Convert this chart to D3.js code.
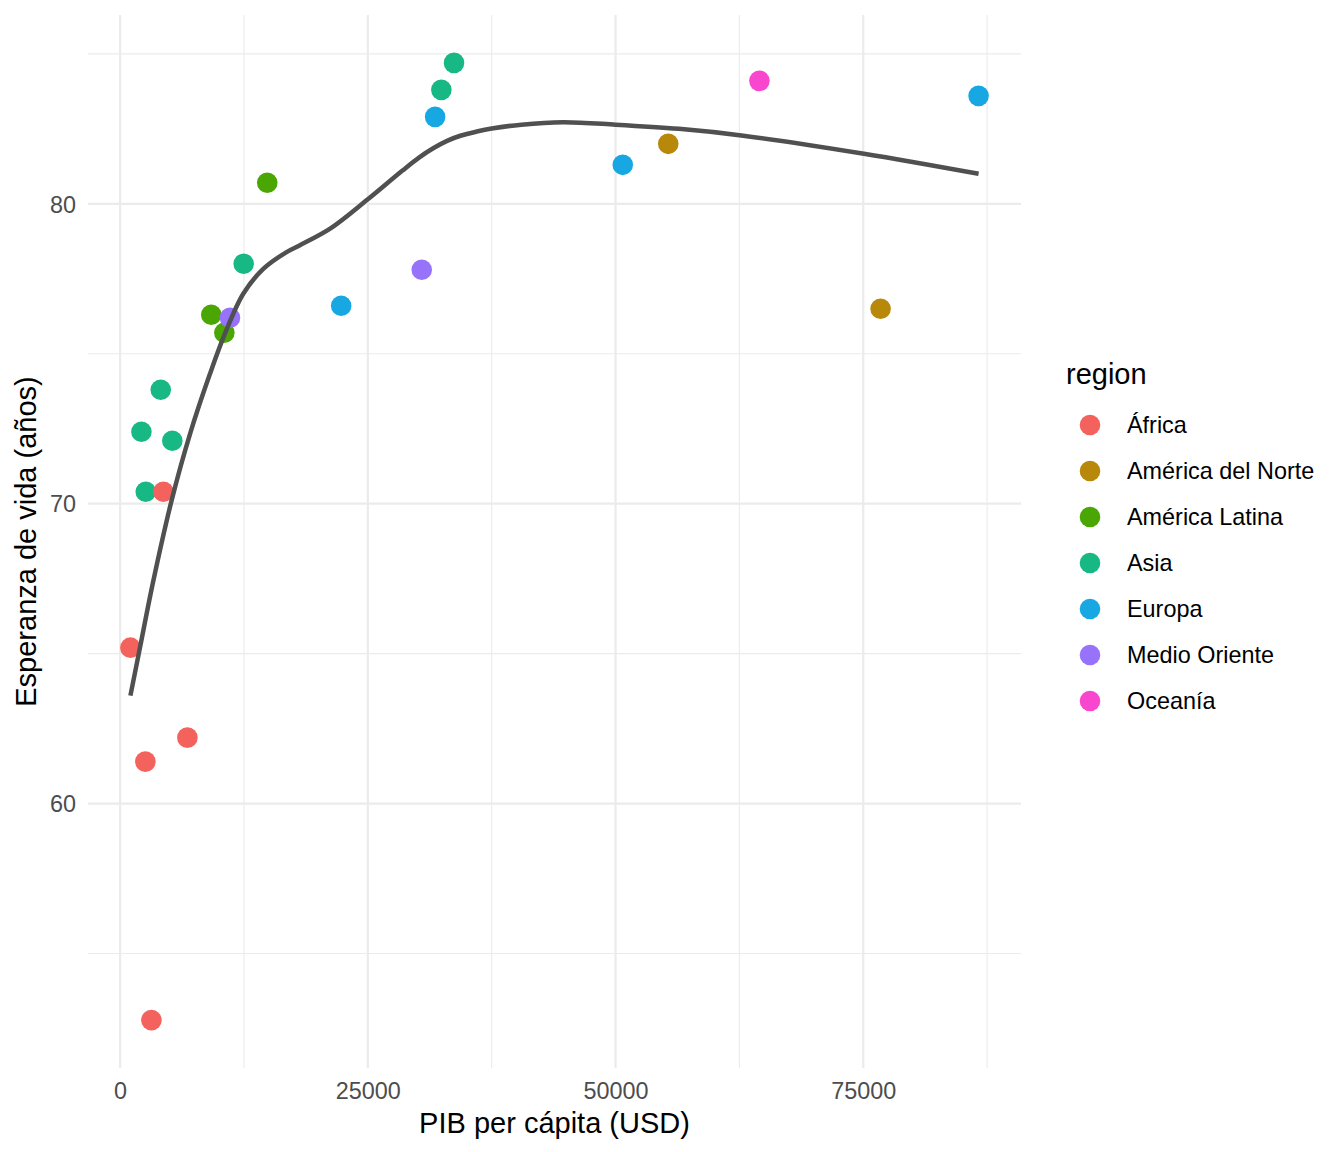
<!DOCTYPE html>
<html>
<head>
<meta charset="utf-8">
<script src="https://cdn.jsdelivr.net/npm/d3@7"></script>
<style>
  body { margin: 0; background: #fff; }
  text { font-family: "Liberation Sans", Arial, Helvetica, sans-serif; }
</style>
</head>
<body>
<div id="chart"></div>
<script>
// data
var regions = ["África", "América del Norte", "América Latina", "Asia", "Europa", "Medio Oriente", "Oceanía"];
var colors = ["#F4625D", "#B8880A", "#4AA703", "#18B884", "#17A8E4", "#9773FB", "#F946CF"];

var gdp     = [2150, 2590, 4100, 5270, 12470, 32420, 33700,
               1040, 2550, 3160, 4370, 6790,
               9200, 10520, 14850,
               11090, 30440,
               22310, 31790, 50730, 86640,
               55320, 76750,
               64520];
var lifeExp = [72.4, 70.4, 73.8, 72.1, 78.0, 83.8, 84.7,
               65.2, 61.4, 52.78, 70.4, 62.2,
               76.3, 75.7, 80.7,
               76.2, 77.8,
               76.6, 82.9, 81.3, 83.6,
               82.0, 76.5,
               84.1];
var region  = ["Asia", "Asia", "Asia", "Asia", "Asia", "Asia", "Asia",
               "África", "África", "África", "África", "África",
               "América Latina", "América Latina", "América Latina",
               "Medio Oriente", "Medio Oriente",
               "Europa", "Europa", "Europa", "Europa",
               "América del Norte", "América del Norte",
               "Oceanía"];

// smoothed trend (loess)
var smoothX = [1040, 2016, 3360, 5200, 7060, 9070, 10580, 12430, 14450, 16800, 18150,
               21200, 25000, 28500, 30200, 31640, 33000, 34340, 36000, 37500, 40500,
               44700, 50000, 56400, 62700, 75070, 86640];
var smoothY = [63.6, 65.22, 67.44, 70.11, 72.33, 74.33, 75.67, 77.0, 77.83, 78.39, 78.62,
               79.17, 80.15, 81.11, 81.55, 81.86, 82.1, 82.27, 82.41, 82.51, 82.64,
               82.72, 82.64, 82.5, 82.28, 81.67, 81.0];

var xMajor = [0, 25000, 50000, 75000],
    xMinor = [12500, 37500, 62500, 87500],
    yMajor = [60, 70, 80],
    yMinor = [55, 65, 75, 85];

// setup dimensions
var W = 1344, H = 1152;
var panel = {left: 88, right: 1021, top: 15, bottom: 1068};

var svg = d3.select("#chart").append("svg")
  .attr("width", W)
  .attr("height", H);

// scales with 5% expansion like ggplot
function expand(ext) {
  var r = ext[1] - ext[0];
  return [ext[0] - 0.05 * r, ext[1] + 0.05 * r];
}
var x = d3.scaleLinear()
  .domain(expand(d3.extent(gdp)))
  .range([panel.left, panel.right]);
var y = d3.scaleLinear()
  .domain(expand(d3.extent(lifeExp)))
  .range([panel.bottom, panel.top]);
var color = d3.scaleOrdinal().domain(regions).range(colors);

// grid
var grid = svg.append("g").attr("class", "grid").attr("stroke", "#EBEBEB");
grid.selectAll("line.xminor").data(xMinor).enter().append("line")
  .attr("x1", x).attr("x2", x)
  .attr("y1", panel.top).attr("y2", panel.bottom)
  .attr("stroke-width", 1.1);
grid.selectAll("line.yminor").data(yMinor).enter().append("line")
  .attr("y1", y).attr("y2", y)
  .attr("x1", panel.left).attr("x2", panel.right)
  .attr("stroke-width", 1.1);
grid.selectAll("line.xmajor").data(xMajor).enter().append("line")
  .attr("x1", x).attr("x2", x)
  .attr("y1", panel.top).attr("y2", panel.bottom)
  .attr("stroke-width", 2.2);
grid.selectAll("line.ymajor").data(yMajor).enter().append("line")
  .attr("y1", y).attr("y2", y)
  .attr("x1", panel.left).attr("x2", panel.right)
  .attr("stroke-width", 2.2);

// axes (tick labels only)
var xAxis = svg.append("g")
  .attr("transform", "translate(0," + (panel.bottom + 8) + ")")
  .call(d3.axisBottom(x).tickValues(xMajor).tickSize(0).tickPadding(0).tickFormat(d3.format("d")));
var yAxis = svg.append("g")
  .attr("transform", "translate(" + (panel.left - 12) + ",0)")
  .call(d3.axisLeft(y).tickValues(yMajor).tickSize(0).tickPadding(0));
[xAxis, yAxis].forEach(function(a) {
  a.select(".domain").remove();
  a.selectAll("text")
    .attr("fill", "#4D4D4D")
    .style("font-size", "23.4px")
    .style("font-family", "'Liberation Sans', Arial, Helvetica, sans-serif");
});
xAxis.selectAll("text").attr("dy", null).attr("y", 23);
yAxis.selectAll("text").attr("dy", "0.35em");

// points
svg.append("g").selectAll("circle")
  .data(gdp.map(function(d, i) { return {x: d, y: lifeExp[i], r: region[i]}; }))
  .enter().append("circle")
  .attr("cx", function(d) { return x(d.x); })
  .attr("cy", function(d) { return y(d.y); })
  .attr("r", 10.3)
  .attr("fill", function(d) { return color(d.r); });

// smooth line
var line = d3.line()
  .x(function(d) { return x(d[0]); })
  .y(function(d) { return y(d[1]); })
  .curve(d3.curveCatmullRom.alpha(0.5));
svg.append("path")
  .datum(smoothX.map(function(d, i) { return [d, smoothY[i]]; }))
  .attr("d", line)
  .attr("fill", "none")
  .attr("stroke", "#505050")
  .attr("stroke-width", 4.5);

// axis titles
svg.append("text")
  .attr("x", (panel.left + panel.right) / 2)
  .attr("y", 1133)
  .attr("text-anchor", "middle")
  .style("font-size", "29px")
  .text("PIB per cápita (USD)");
svg.append("text")
  .attr("transform", "translate(36," + ((panel.top + panel.bottom) / 2) + ") rotate(-90)")
  .attr("text-anchor", "middle")
  .style("font-size", "29px")
  .text("Esperanza de vida (años)");

// legend
var legend = svg.append("g");
legend.append("text")
  .attr("x", 1066)
  .attr("y", 384)
  .style("font-size", "29px")
  .text("region");
var keys = legend.selectAll("g.key")
  .data(regions)
  .enter().append("g")
  .attr("class", "key")
  .attr("transform", function(d, i) { return "translate(0," + (425 + i * 46) + ")"; });
keys.append("circle")
  .attr("cx", 1090)
  .attr("r", 10.3)
  .attr("fill", function(d) { return color(d); });
keys.append("text")
  .attr("x", 1127)
  .attr("dy", "0.35em")
  .style("font-size", "23.4px")
  .text(function(d) { return d; });
</script>
</body>
</html>
